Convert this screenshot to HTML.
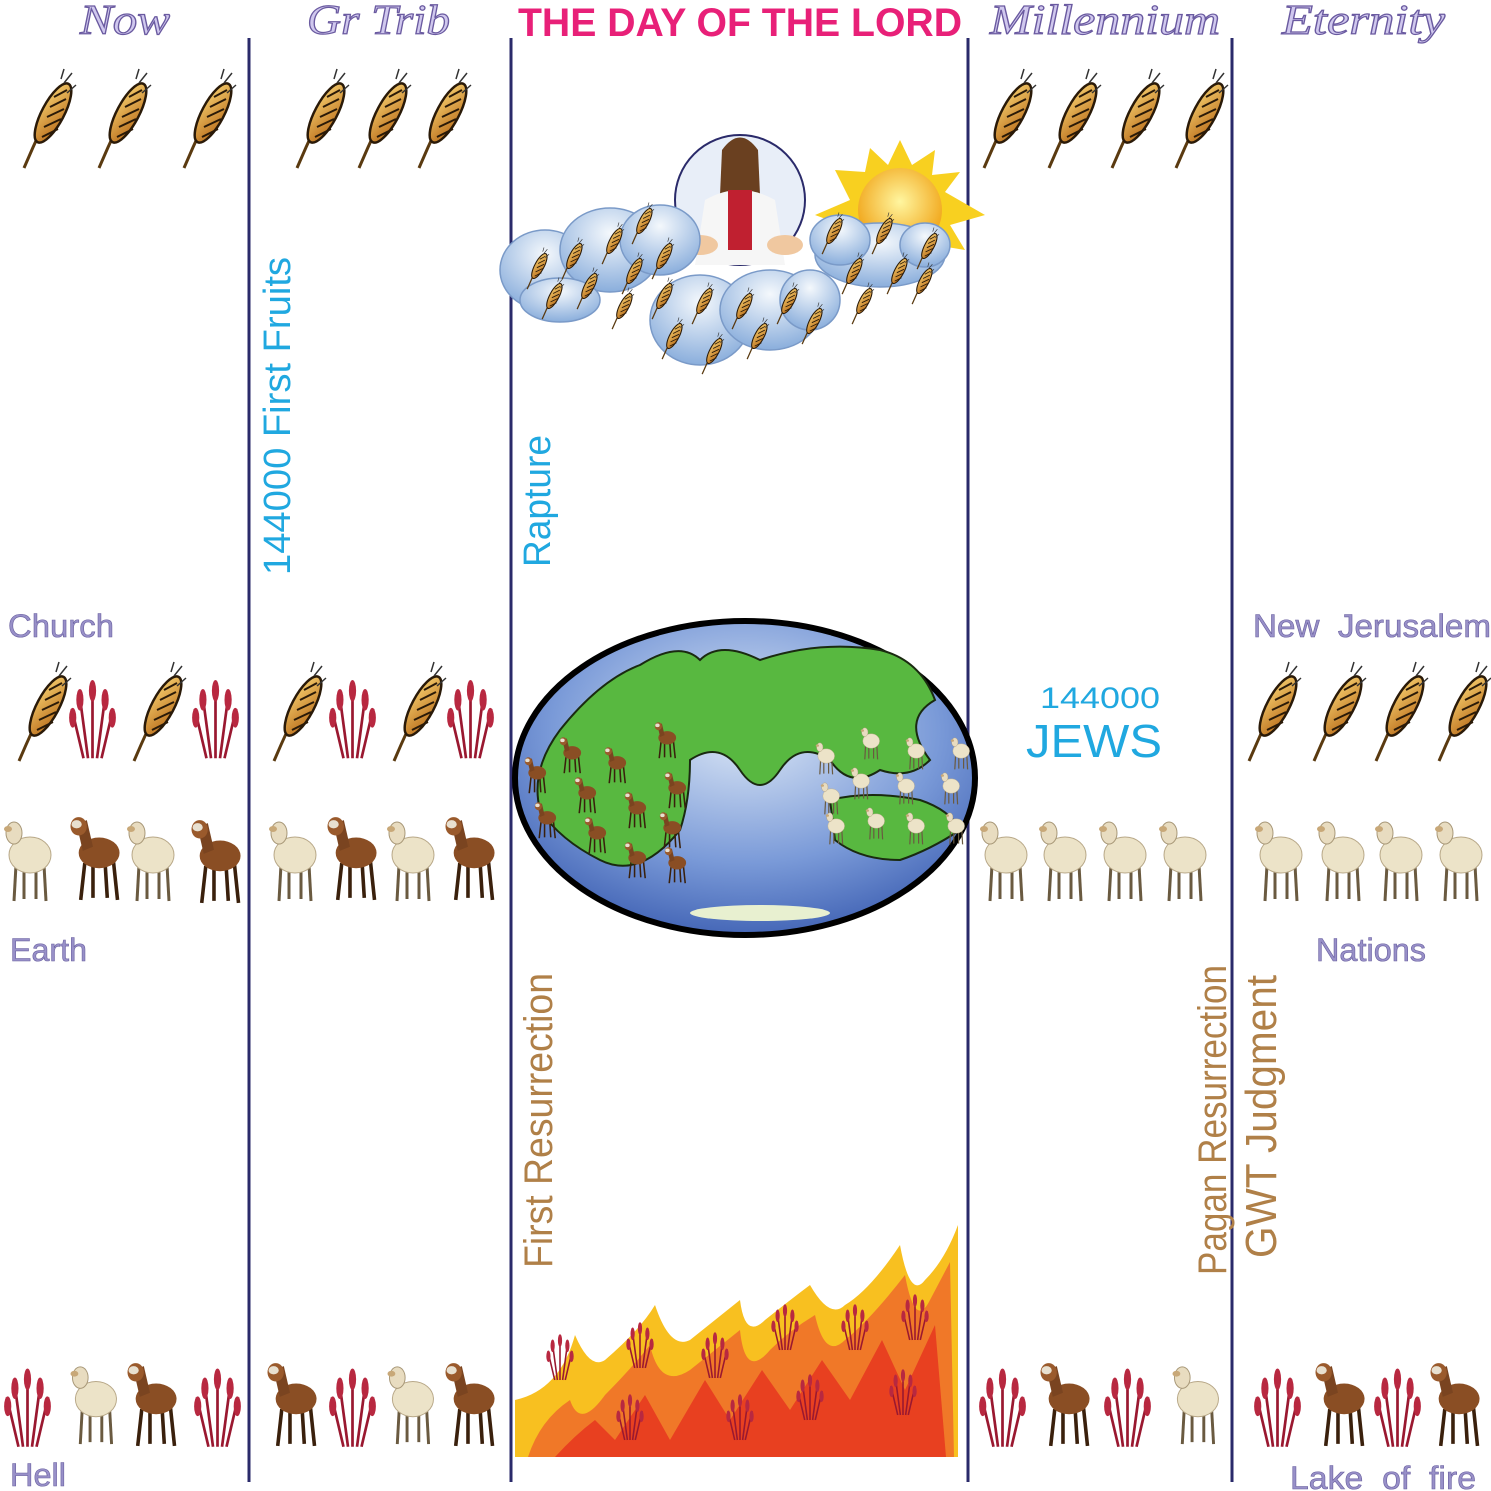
<!DOCTYPE html>
<html><head><meta charset="utf-8"><style>
html,body{margin:0;padding:0;background:#fff;}
body{width:1491px;height:1491px;overflow:hidden;position:relative;font-family:"Liberation Sans",sans-serif;}
svg{position:absolute;left:0;top:0;}
</style></head><body>
<svg width="1491" height="1491" viewBox="0 0 1491 1491" xmlns="http://www.w3.org/2000/svg">
<defs>
<linearGradient id="gold" x1="0" y1="0" x2="1" y2="1"><stop offset="0" stop-color="#f6d070"/><stop offset="1" stop-color="#b86a18"/></linearGradient>
<symbol id="wheat" viewBox="0 0 50 95" overflow="visible">
 <path d="M4 93 Q18 60 34 28" stroke="#5a3a10" stroke-width="3" fill="none"/>
 <ellipse cx="33" cy="38" rx="11" ry="33" transform="rotate(28 33 38)" fill="url(#gold)" stroke="#2a1a08" stroke-width="2.5"/>
 <path d="M22 62 L38 54 M24 52 L41 44 M27 42 L44 34 M30 32 L46 24 M34 22 L47 15" stroke="#2a1a08" stroke-width="2"/>
 <path d="M44 8 L52 -2 M47 18 L56 10 M41 4 L44 -6" stroke="#333" stroke-width="1.5"/>
</symbol>
<symbol id="rwheat" viewBox="0 0 50 95" overflow="visible">
 <g stroke="#9a1830" stroke-width="3" fill="none">
  <path d="M25 95 L25 10"/><path d="M20 95 L10 20"/><path d="M30 95 L40 20"/><path d="M15 95 L2 40"/><path d="M35 95 L48 40"/>
 </g>
 <g fill="#b82840">
  <ellipse cx="25" cy="20" rx="4" ry="12"/><ellipse cx="11" cy="30" rx="4" ry="12"/><ellipse cx="39" cy="30" rx="4" ry="12"/><ellipse cx="3" cy="50" rx="4" ry="11"/><ellipse cx="47" cy="50" rx="4" ry="11"/>
 </g>
</symbol>
<symbol id="sheep" viewBox="0 0 50 90" overflow="visible">
 <g stroke="#6a5a40" stroke-width="3"><line x1="14" y1="50" x2="12" y2="86"/><line x1="22" y1="52" x2="22" y2="84"/><line x1="34" y1="52" x2="34" y2="84"/><line x1="42" y1="50" x2="44" y2="86"/></g>
 <ellipse cx="28" cy="40" rx="21" ry="18" fill="#ece3c8" stroke="#b8a888"/>
 <ellipse cx="12" cy="18" rx="8" ry="11" fill="#e8dcc0" stroke="#a89878"/>
 <ellipse cx="6" cy="14" rx="4" ry="3" fill="#c8a878"/>
</symbol>
<symbol id="goat" viewBox="0 0 50 90" overflow="visible">
 <g stroke="#3a200c" stroke-width="3.5"><line x1="16" y1="50" x2="12" y2="86"/><line x1="24" y1="52" x2="24" y2="84"/><line x1="36" y1="52" x2="38" y2="84"/><line x1="44" y1="48" x2="48" y2="86"/></g>
 <ellipse cx="30" cy="40" rx="20" ry="15" fill="#8a4e24"/>
 <path d="M8 12 L18 8 L24 34 L14 38 Z" fill="#7a4420"/>
 <ellipse cx="10" cy="14" rx="8" ry="9" fill="#9a5a2c"/>
 <ellipse cx="8" cy="12" rx="5" ry="4" fill="#e8e0d0"/>
</symbol>
<radialGradient id="earthg" cx="0.5" cy="0.35" r="0.7"><stop offset="0" stop-color="#dde8f6"/><stop offset="0.6" stop-color="#7a9ad8"/><stop offset="1" stop-color="#3a5cb0"/></radialGradient>
<radialGradient id="cloud" cx="0.5" cy="0.3" r="0.7"><stop offset="0" stop-color="#f4f8fc"/><stop offset="1" stop-color="#8aaedc"/></radialGradient>
<radialGradient id="sun" cx="0.5" cy="0.4" r="0.6"><stop offset="0" stop-color="#fff6a0"/><stop offset="1" stop-color="#f0a010"/></radialGradient>
</defs>

<g stroke="#2a2a6a" stroke-width="3">
<line x1="249" y1="38" x2="249" y2="1482"/><line x1="511" y1="38" x2="511" y2="1482"/><line x1="968" y1="38" x2="968" y2="1482"/><line x1="1232" y1="38" x2="1232" y2="1482"/>
</g>

<g font-family="Liberation Serif,serif" font-style="italic" font-size="42" fill="#d0c8ee" stroke="#6a5aa0" stroke-width="1.2">
<text x="80" y="34" textLength="90" lengthAdjust="spacingAndGlyphs">Now</text>
<text x="307" y="34" textLength="143" lengthAdjust="spacingAndGlyphs">Gr Trib</text>
<text x="990" y="34" textLength="230" lengthAdjust="spacingAndGlyphs">Millennium</text>
<text x="1282" y="34" textLength="163" lengthAdjust="spacingAndGlyphs">Eternity</text>
</g>
<text x="740" y="36" text-anchor="middle" font-family="Liberation Sans,sans-serif" font-weight="bold" font-size="40" fill="#e82078" textLength="444" lengthAdjust="spacingAndGlyphs">THE DAY OF THE LORD</text>

<g font-size="32" fill="#9890c8" stroke="#6a60a0" stroke-width="0.6">
<text x="8" y="637" textLength="106" lengthAdjust="spacingAndGlyphs">Church</text><text x="10" y="961" textLength="77" lengthAdjust="spacingAndGlyphs">Earth</text><text x="10" y="1486" textLength="56" lengthAdjust="spacingAndGlyphs">Hell</text>
<text x="1253" y="637" textLength="238" lengthAdjust="spacingAndGlyphs">New&#160;&#160;Jerusalem</text><text x="1316" y="961" textLength="110" lengthAdjust="spacingAndGlyphs">Nations</text><text x="1290" y="1489" textLength="186" lengthAdjust="spacingAndGlyphs">Lake&#160;&#160;of&#160;&#160;fire</text>
</g>

<g font-size="38" fill="#20a8e0">
<text transform="translate(290,575) rotate(-90)" textLength="318" lengthAdjust="spacingAndGlyphs">144000 First Fruits</text>
<text transform="translate(550,567) rotate(-90)" textLength="132" lengthAdjust="spacingAndGlyphs">Rapture</text>
</g>
<g font-size="40" fill="#b08048">
<text transform="translate(552,1268) rotate(-90)" textLength="295" lengthAdjust="spacingAndGlyphs">First Resurrection</text>
<text transform="translate(1226,1275) rotate(-90)" textLength="310" lengthAdjust="spacingAndGlyphs">Pagan Resurrection</text>
<text transform="translate(1276,1258) rotate(-90)" textLength="283" lengthAdjust="spacingAndGlyphs" font-size="44">GWT Judgment</text>
</g>
<g fill="#20a8e0" text-anchor="middle">
<text x="1100" y="708" font-size="30" textLength="120" lengthAdjust="spacingAndGlyphs">144000</text>
<text x="1094" y="757" font-size="46" textLength="136" lengthAdjust="spacingAndGlyphs">JEWS</text>
</g>

<use href="#wheat" x="20" y="75" width="50" height="95"/><use href="#wheat" x="95" y="75" width="50" height="95"/><use href="#wheat" x="180" y="75" width="50" height="95"/>
<use href="#wheat" x="293" y="75" width="50" height="95"/><use href="#wheat" x="355" y="75" width="50" height="95"/><use href="#wheat" x="415" y="75" width="50" height="95"/>
<use href="#wheat" x="980" y="75" width="50" height="95"/><use href="#wheat" x="1045" y="75" width="50" height="95"/><use href="#wheat" x="1108" y="75" width="50" height="95"/><use href="#wheat" x="1172" y="75" width="50" height="95"/>

<use href="#wheat" x="15" y="668" width="50" height="95"/><use href="#rwheat" x="70" y="668" width="45" height="95"/><use href="#wheat" x="130" y="668" width="50" height="95"/><use href="#rwheat" x="193" y="668" width="45" height="95"/>
<use href="#wheat" x="270" y="668" width="50" height="95"/><use href="#rwheat" x="330" y="668" width="45" height="95"/><use href="#wheat" x="390" y="668" width="50" height="95"/><use href="#rwheat" x="448" y="668" width="45" height="95"/>
<use href="#wheat" x="1245" y="668" width="50" height="95"/><use href="#wheat" x="1310" y="668" width="50" height="95"/><use href="#wheat" x="1372" y="668" width="50" height="95"/><use href="#wheat" x="1435" y="668" width="50" height="95"/>

<use href="#sheep" x="2" y="815" width="50" height="90"/><use href="#goat" x="65" y="812" width="58" height="92"/><use href="#sheep" x="125" y="815" width="50" height="90"/><use href="#goat" x="185" y="815" width="60" height="92"/>
<use href="#sheep" x="267" y="815" width="50" height="90"/><use href="#goat" x="322" y="812" width="58" height="92"/><use href="#sheep" x="385" y="815" width="50" height="90"/><use href="#goat" x="440" y="812" width="58" height="92"/>
<use href="#sheep" x="978" y="815" width="50" height="90"/><use href="#sheep" x="1037" y="815" width="50" height="90"/><use href="#sheep" x="1097" y="815" width="50" height="90"/><use href="#sheep" x="1157" y="815" width="50" height="90"/>
<use href="#sheep" x="1253" y="815" width="50" height="90"/><use href="#sheep" x="1315" y="815" width="50" height="90"/><use href="#sheep" x="1373" y="815" width="50" height="90"/><use href="#sheep" x="1433" y="815" width="50" height="90"/>

<use href="#rwheat" x="5" y="1358" width="45" height="92"/><use href="#sheep" x="68" y="1360" width="50" height="88"/><use href="#goat" x="122" y="1358" width="58" height="92"/><use href="#rwheat" x="195" y="1358" width="45" height="92"/>
<use href="#goat" x="262" y="1358" width="58" height="92"/><use href="#rwheat" x="330" y="1358" width="45" height="92"/><use href="#sheep" x="385" y="1360" width="50" height="88"/><use href="#goat" x="440" y="1358" width="58" height="92"/>
<use href="#rwheat" x="980" y="1358" width="45" height="92"/><use href="#goat" x="1035" y="1358" width="58" height="92"/><use href="#rwheat" x="1105" y="1358" width="45" height="92"/><use href="#sheep" x="1170" y="1360" width="50" height="88"/>
<use href="#rwheat" x="1255" y="1358" width="45" height="92"/><use href="#goat" x="1310" y="1358" width="58" height="92"/><use href="#rwheat" x="1375" y="1358" width="45" height="92"/><use href="#goat" x="1425" y="1358" width="58" height="92"/>

<g>
 <polygon points="900,140 912,165 935,150 932,175 960,172 945,192 985,215 950,225 965,250 935,245 930,275 905,255 880,275 870,245 840,255 850,228 815,215 850,200 835,170 865,172 870,148 888,165" fill="#f8d020"/>
 <circle cx="900" cy="210" r="42" fill="url(#sun)"/>
 <circle cx="740" cy="200" r="65" fill="#e8eef8" stroke="#2a2a6a" stroke-width="2"/>
 <ellipse cx="740" cy="165" rx="16" ry="22" fill="#c89060"/>
 <path d="M722 150 Q740 125 758 150 L760 195 L720 195 Z" fill="#6a4020"/>
 <path d="M705 200 Q740 180 775 200 L785 265 L695 265 Z" fill="#f6f6f6"/>
 <rect x="728" y="190" width="24" height="60" fill="#c02030"/>
 <ellipse cx="700" cy="245" rx="18" ry="10" fill="#f0c8a0"/><ellipse cx="785" cy="245" rx="18" ry="10" fill="#f0c8a0"/>
 <g fill="url(#cloud)" stroke="#7a9ac8" stroke-width="1.5">
  <ellipse cx="545" cy="270" rx="45" ry="40"/><ellipse cx="610" cy="250" rx="50" ry="42"/><ellipse cx="660" cy="240" rx="40" ry="35"/><ellipse cx="560" cy="300" rx="40" ry="22"/>
  <ellipse cx="700" cy="320" rx="50" ry="45"/><ellipse cx="770" cy="310" rx="50" ry="40"/><ellipse cx="810" cy="300" rx="30" ry="30"/>
  <ellipse cx="880" cy="255" rx="65" ry="32"/><ellipse cx="840" cy="240" rx="30" ry="25"/><ellipse cx="925" cy="245" rx="25" ry="22"/>
 </g>
 <g>
  <use href="#wheat" x="525" y="250" width="22" height="40"/><use href="#wheat" x="560" y="240" width="22" height="40"/><use href="#wheat" x="600" y="225" width="22" height="40"/><use href="#wheat" x="630" y="205" width="22" height="40"/>
  <use href="#wheat" x="540" y="280" width="22" height="40"/><use href="#wheat" x="575" y="270" width="22" height="40"/><use href="#wheat" x="620" y="255" width="22" height="40"/><use href="#wheat" x="650" y="240" width="22" height="40"/>
  <use href="#wheat" x="610" y="290" width="22" height="40"/><use href="#wheat" x="650" y="280" width="22" height="40"/><use href="#wheat" x="690" y="285" width="22" height="40"/><use href="#wheat" x="730" y="290" width="22" height="40"/>
  <use href="#wheat" x="775" y="285" width="22" height="40"/><use href="#wheat" x="800" y="305" width="22" height="40"/><use href="#wheat" x="660" y="320" width="22" height="40"/><use href="#wheat" x="700" y="335" width="22" height="40"/><use href="#wheat" x="745" y="320" width="22" height="40"/>
  <use href="#wheat" x="820" y="215" width="22" height="40"/><use href="#wheat" x="870" y="215" width="22" height="40"/><use href="#wheat" x="915" y="230" width="22" height="40"/><use href="#wheat" x="840" y="255" width="22" height="40"/><use href="#wheat" x="885" y="255" width="22" height="40"/><use href="#wheat" x="910" y="265" width="22" height="40"/><use href="#wheat" x="850" y="285" width="22" height="40"/>
 </g>
</g>

<g>
 <ellipse cx="745" cy="778" rx="230" ry="157" fill="url(#earthg)" stroke="#000" stroke-width="6"/>
 <path d="M560 730 Q600 680 640 665 Q680 640 700 660 Q720 640 760 660 Q820 640 880 650 Q920 660 935 700 Q900 720 930 760 Q910 780 880 770 Q850 790 830 760 Q800 740 780 770 Q760 800 740 770 Q720 740 690 760 Q690 800 680 830 Q640 880 600 860 Q560 840 540 810 Q530 770 560 730 Z" fill="#58b840" stroke="#1a2a10" stroke-width="2"/>
 <path d="M830 800 Q870 790 920 800 Q950 810 960 830 Q930 850 900 860 Q860 860 835 840 Z" fill="#58b840" stroke="#1a2a10" stroke-width="2"/>
 <ellipse cx="760" cy="913" rx="70" ry="8" fill="#e8f0d0"/>
 <g>
  <use href="#goat" x="520" y="755" width="30" height="40"/><use href="#goat" x="555" y="735" width="30" height="40"/><use href="#goat" x="600" y="745" width="30" height="40"/><use href="#goat" x="650" y="720" width="30" height="40"/>
  <use href="#goat" x="570" y="775" width="30" height="40"/><use href="#goat" x="620" y="790" width="30" height="40"/><use href="#goat" x="660" y="770" width="30" height="40"/><use href="#goat" x="530" y="800" width="30" height="40"/>
  <use href="#goat" x="580" y="815" width="30" height="40"/><use href="#goat" x="620" y="840" width="30" height="40"/><use href="#goat" x="660" y="845" width="30" height="40"/><use href="#goat" x="655" y="810" width="30" height="40"/>
  <use href="#sheep" x="810" y="740" width="30" height="36"/><use href="#sheep" x="855" y="725" width="30" height="36"/><use href="#sheep" x="900" y="735" width="30" height="36"/><use href="#sheep" x="945" y="735" width="30" height="36"/>
  <use href="#sheep" x="845" y="765" width="30" height="36"/><use href="#sheep" x="890" y="770" width="30" height="36"/><use href="#sheep" x="935" y="770" width="30" height="36"/><use href="#sheep" x="815" y="780" width="30" height="36"/>
  <use href="#sheep" x="820" y="810" width="30" height="36"/><use href="#sheep" x="860" y="805" width="30" height="36"/><use href="#sheep" x="900" y="810" width="30" height="36"/><use href="#sheep" x="940" y="810" width="30" height="36"/>
 </g>
</g>

<g>
 <path d="M515 1457 L515 1400 Q560 1390 575 1335 Q590 1370 605 1360 Q640 1330 655 1305 Q670 1350 690 1340 Q715 1320 740 1300 Q745 1340 765 1320 Q790 1300 810 1285 Q830 1320 845 1305 Q870 1290 900 1245 Q910 1300 925 1280 Q945 1260 958 1225 L958 1457 Z" fill="#f8c020"/>
 <path d="M528 1457 Q540 1420 570 1400 Q580 1430 605 1395 Q630 1370 650 1345 Q660 1390 690 1370 Q715 1350 740 1330 Q745 1380 770 1350 Q790 1330 815 1315 Q825 1360 845 1340 Q870 1320 905 1275 Q915 1330 930 1300 L950 1262 L954 1457 Z" fill="#f07828"/>
 <path d="M555 1457 Q575 1435 595 1420 L615 1440 L645 1395 L670 1440 L705 1380 L730 1420 L762 1370 L790 1410 L822 1360 L850 1400 L882 1340 L905 1390 L935 1325 L946 1457 Z" fill="#e84020"/>
 <use href="#rwheat" x="545" y="1330" width="30" height="50"/><use href="#rwheat" x="625" y="1318" width="30" height="50"/><use href="#rwheat" x="700" y="1328" width="30" height="50"/><use href="#rwheat" x="770" y="1300" width="30" height="50"/><use href="#rwheat" x="840" y="1300" width="30" height="50"/><use href="#rwheat" x="900" y="1290" width="30" height="50"/>
 <use href="#rwheat" x="615" y="1390" width="30" height="50"/><use href="#rwheat" x="725" y="1390" width="30" height="50"/><use href="#rwheat" x="795" y="1370" width="30" height="50"/><use href="#rwheat" x="888" y="1365" width="30" height="50"/>
</g>
</svg>
</body></html>
